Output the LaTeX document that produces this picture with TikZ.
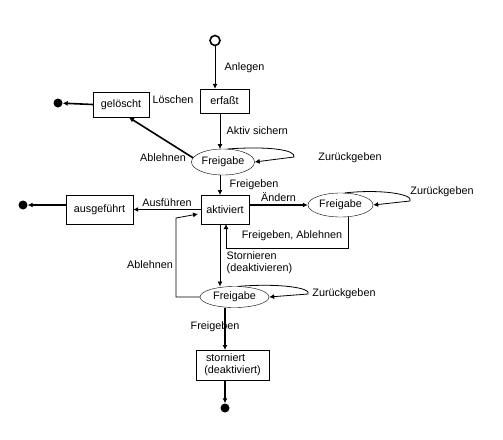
\documentclass[tikz,border=0pt]{standalone}
\usepackage{fontspec}
\setmainfont{Liberation Sans}
\usetikzlibrary{arrows.meta,shapes.geometric}

\begin{document}
\begin{tikzpicture}[x=1pt,y=-1pt,font=\fontsize{10.8}{12}\selectfont,
	state/.style={draw,rectangle,inner sep=1pt,align=center},
	release/.style={draw,ellipse,inner sep=0pt},
	final/.style={circle,fill=black,inner sep=0pt,minimum size=9pt},
	>={Latex[length=5pt,width=5pt]}, lean/.style={line width=0.8pt}, heavy/.style={line width=1.6pt}]
\useasboundingbox (0,0) rectangle (503,439);
\node [circle, draw, line width=1.6pt, inner sep=0pt, minimum size=10pt] (start) at (215,40.5) {};
\node [state, minimum width=49pt, minimum height=24pt] (erf) at (224.5,101) {erfaßt};
\node [state, minimum width=56pt, minimum height=25pt] (gel) at (121,104.5) {gelöscht};
\node [final] (endA) at (58,103) {};
\node [release, minimum width=63pt, minimum height=26pt] (frA) at (223,162) {Freigabe};
\node [state, minimum width=48pt, minimum height=29pt] (akt) at (225,209.5) {aktiviert};
\node [state, minimum width=67pt, minimum height=29pt] (aus) at (99.5,209.5) {ausgeführt};
\node [final] (endB) at (23,205) {};
\node [release, minimum width=65pt, minimum height=24pt] (frB) at (340.5,205) {Freigabe};
\node [release, minimum width=69pt, minimum height=21pt] (frC) at (234.5,297) {Freigabe};
\node [state, minimum width=73pt, minimum height=30pt, align=left] (sto) at (232.5,365) {\,storniert\\(deaktiviert)};
\node [final] (endC) at (225,408) {};
%	transitions
\draw[lean,->] (start) -- (start |- erf.north) node[midway,right=6pt] {Anlegen};
\node at (173,100) {Löschen};
\draw[heavy,->] (gel.west) -- (endA);
\draw[lean,->] (220,113) -- (220,149) node[midway,right=3pt] {Aktiv sichern};
\draw[heavy,->] (frA.172) -- (129,117.5);
\node at (163,158) {Ablehnen};
\draw[lean,->] (frA.70) .. controls (270,146) and (296,150) .. (294,157) -- (frA.east);
\node at (350,158) {Zurückgeben};
\draw[lean,->] (220,175) -- (220,195) node[midway,right=6pt] {Freigeben};
\draw[heavy,->] (akt.west) -- (aus.east) node[midway,above=-1pt] {Ausführen};
\draw[heavy,->] (aus.west |- endB) -- (endB);
\draw[heavy,->] (akt.east |- frB) -- (frB.west) node[midway,above=-1pt] {Ändern};
\draw[lean,->] (frB.70) .. controls (380,189) and (414,194) .. (410,201) -- (frB.east);
\node at (442,192) {Zurückgeben};
\draw[lean,->] (348,216.5) -- (348,248) -- (226,248) -- (226,224);
\node at (292,236) {Freigeben, Ablehnen};
\draw[lean,->] (220,224) -- (220,286.5) node[pos=0.62,right=3pt,align=left] {Stornieren\\(deaktivieren)};
\draw[lean,->] (frC.west) -- (176,297) -- (176,218) -- (198,214);
\node at (150,265) {Ablehnen};
\draw[lean,->] (frC.70) .. controls (280,283) and (312,288) .. (308,294) -- (frC.east);
\node at (344,294) {Zurückgeben};
\draw[heavy,->] (225,307.5) -- (225,350);
\node at (215,327) {Freigeben};
\draw[heavy,->] (225,380) -- (endC);
\end{tikzpicture}
\end{document}
